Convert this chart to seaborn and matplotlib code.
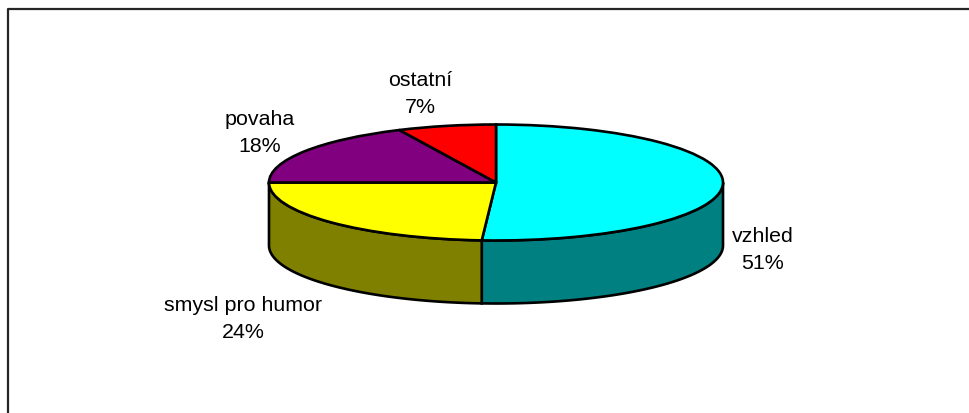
import numpy as np
import matplotlib
matplotlib.use("Agg")
import matplotlib.pyplot as plt
import seaborn as sns

labels = ["vzhled", "smysl pro humor", "povaha", "ostatní"]
values = [51, 24, 18, 7]
top_colors = ["#00FFFF", "#FFFF00", "#800080", "#FF0000"]
side_colors = ["#008080", "#808000", "#400040", "#800000"]

W, H = 970, 414
cx, cy, rx, ry, depth = 496, 183.5, 227, 58, 63
label_pos = [(763, 250), (243, 319), (260, 133), (420, 94)]

sns.set_theme(style="white")
plt.rcParams["font.family"] = ["Liberation Sans", "DejaVu Sans"]

fig = plt.figure(figsize=(W / 100, H / 100), dpi=100)
ax = fig.add_axes([0, 0, 1, 1])

# top of the pie, drawn as a unit circle and squashed by the axis limits
ax.pie(values, colors=top_colors, startangle=90, counterclock=False,
       wedgeprops={"edgecolor": "black", "linewidth": 1.9, "zorder": 3})
ax.set_aspect("auto")
ax.set_xlim(-cx / rx, (W - cx) / rx)
ax.set_ylim((cy - H) / ry, cy / ry)
ax.axis("off")

# side wall, only the part of each slice that faces the viewer
d = depth / ry
start = 0
for v, c in zip(values, side_colors):
    end = start + v / sum(values) * 360
    a, b = max(start, 90), min(end, 270)
    if b > a:
        t = np.radians(np.linspace(a, b, 120))
        x = np.sin(t)
        y = np.cos(t)
        ax.fill(np.r_[x, x[::-1]], np.r_[y, y[::-1] - d], facecolor=c,
                edgecolor="black", linewidth=1.9, zorder=2)
    start = end

for name, v, (px, py) in zip(labels, values, label_pos):
    fig.text(px / W, 1 - py / H, f"{name}\n{v}%", ha="center", va="center",
             fontsize=15.4, color="black", linespacing=1.48)

# chart frame, open on the right and bottom
fig.add_artist(plt.Line2D([8 / W, 8 / W, 1], [0, 1 - 10 / H, 1 - 10 / H],
                          color="#262626", linewidth=1.6))

fig.savefig("out.png", dpi=100, facecolor="white")
